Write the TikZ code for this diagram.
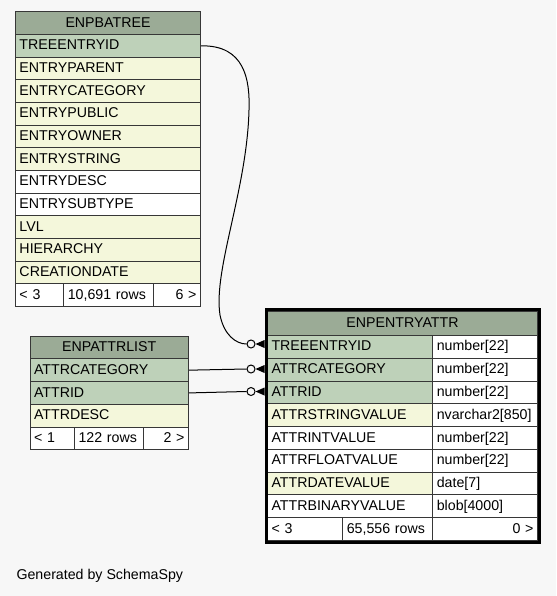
\documentclass[tikz,border=0pt]{standalone}
\usepackage{fontspec}
\setmainfont{Liberation Sans}
\usetikzlibrary{fit}
\definecolor{bgcolor}{RGB}{247,247,247}
\definecolor{hdrgreen}{RGB}{155,171,150}
\definecolor{keygreen}{RGB}{190,209,185}
\definecolor{idxyellow}{RGB}{244,247,219}
\definecolor{cellline}{RGB}{55,55,55}
\tikzset{
    cell/.style={rectangle, draw=cellline, line width=1pt, anchor=north west, inner xsep=4pt, inner ysep=0pt, text height=11pt, text depth=2.8pt, align=left, font=\fontsize{14.2}{16}\selectfont},
    header/.style={cell, fill=hdrgreen, align=center},
    keycol/.style={cell, fill=keygreen},
    idxcol/.style={cell, fill=idxyellow},
    plaincol/.style={cell, fill=white},
    footcell/.style={cell, fill=white},
    selframe/.style={rectangle, draw=black, line width=3pt, inner sep=1pt},
    ring/.style={circle, draw=black, fill=bgcolor, line width=1pt, minimum size=8pt, inner sep=0pt},
    relline/.style={draw=black, line width=1pt},
    crowfoot/.style={fill=black},
    credit/.style={anchor=west, font=\fontsize{14.2}{16}\selectfont},
}

\begin{document}
\begin{tikzpicture}[x=1pt, y=-1pt]

    \fill[bgcolor] (0,0) rectangle (556,596);
    \useasboundingbox (0,0) rectangle (556,596);

    % ENPBATREE
    \node[header, text width=177pt, minimum height=22.67pt] (tree_hdr) at (15, 11.33) {ENPBATREE};
    \node[keycol, text width=177pt, minimum height=22.67pt] (tree_id) at (15, 34) {TREEENTRYID};
    \node[idxcol, text width=177pt, minimum height=22.67pt] (tree_parent) at (15, 56.67) {ENTRYPARENT};
    \node[idxcol, text width=177pt, minimum height=22.67pt] (tree_cat) at (15, 79.33) {ENTRYCATEGORY};
    \node[idxcol, text width=177pt, minimum height=22.67pt] (tree_public) at (15, 102) {ENTRYPUBLIC};
    \node[idxcol, text width=177pt, minimum height=22.67pt] (tree_owner) at (15, 124.67) {ENTRYOWNER};
    \node[idxcol, text width=177pt, minimum height=22.67pt] (tree_string) at (15, 147.33) {ENTRYSTRING};
    \node[plaincol, text width=177pt, minimum height=22.67pt] (tree_desc) at (15, 170) {ENTRYDESC};
    \node[plaincol, text width=177pt, minimum height=22.67pt] (tree_subtype) at (15, 192.67) {ENTRYSUBTYPE};
    \node[idxcol, text width=177pt, minimum height=22.67pt] (tree_lvl) at (15, 215.33) {LVL};
    \node[idxcol, text width=177pt, minimum height=22.67pt] (tree_hier) at (15, 238) {HIERARCHY};
    \node[idxcol, text width=177pt, minimum height=22.67pt] (tree_created) at (15, 260.67) {CREATIONDATE};
    \node[footcell, text width=40.3pt, minimum height=22.67pt] (tree_foot_l) at (15, 283.33) {< 3};
    \node[footcell, text width=81.4pt, minimum height=22.67pt] (tree_foot_m) at (63.3, 283.33) {10,691 rows};
    \node[footcell, text width=39.3pt, minimum height=22.67pt, align=right] (tree_foot_r) at (152.7, 283.33) {6 >};

    % ENPATTRLIST
    \node[header, text width=150.5pt, minimum height=22.75pt] (list_hdr) at (29.5, 335.55) {ENPATTRLIST};
    \node[keycol, text width=150.5pt, minimum height=22.75pt] (list_cat) at (29.5, 358.3) {ATTRCATEGORY};
    \node[keycol, text width=150.5pt, minimum height=22.75pt] (list_id) at (29.5, 381.05) {ATTRID};
    \node[idxcol, text width=150.5pt, minimum height=22.75pt] (list_desc) at (29.5, 403.8) {ATTRDESC};
    \node[footcell, text width=36.5pt, minimum height=22.75pt] (list_foot_l) at (29.5, 426.55) {< 1};
    \node[footcell, text width=61.3pt, minimum height=22.75pt] (list_foot_m) at (74, 426.55) {122 rows};
    \node[footcell, text width=36.7pt, minimum height=22.75pt, align=right] (list_foot_r) at (143.3, 426.55) {2 >};

    % ENPENTRYATTR
    \node[header, text width=262pt, minimum height=24.5pt] (attr_hdr) at (267, 310.5) {ENPENTRYATTR};
    \node[keycol, text width=157.3pt, minimum height=22.78pt] (attr_tree) at (267, 335) {TREEENTRYID};
    \node[plaincol, text width=96.7pt, minimum height=22.78pt] (attr_tree_type) at (432.3, 335) {number[22]};
    \node[keycol, text width=157.3pt, minimum height=22.78pt] (attr_cat) at (267, 357.78) {ATTRCATEGORY};
    \node[plaincol, text width=96.7pt, minimum height=22.78pt] (attr_cat_type) at (432.3, 357.78) {number[22]};
    \node[keycol, text width=157.3pt, minimum height=22.78pt] (attr_id) at (267, 380.56) {ATTRID};
    \node[plaincol, text width=96.7pt, minimum height=22.78pt] (attr_id_type) at (432.3, 380.56) {number[22]};
    \node[idxcol, text width=157.3pt, minimum height=22.78pt] (attr_string) at (267, 403.33) {ATTRSTRINGVALUE};
    \node[plaincol, text width=96.7pt, minimum height=22.78pt] (attr_string_type) at (432.3, 403.33) {nvarchar2[850]};
    \node[plaincol, text width=157.3pt, minimum height=22.78pt] (attr_int) at (267, 426.11) {ATTRINTVALUE};
    \node[plaincol, text width=96.7pt, minimum height=22.78pt] (attr_int_type) at (432.3, 426.11) {number[22]};
    \node[plaincol, text width=157.3pt, minimum height=22.78pt] (attr_float) at (267, 448.89) {ATTRFLOATVALUE};
    \node[plaincol, text width=96.7pt, minimum height=22.78pt] (attr_float_type) at (432.3, 448.89) {number[22]};
    \node[idxcol, text width=157.3pt, minimum height=22.78pt] (attr_date) at (267, 471.67) {ATTRDATEVALUE};
    \node[plaincol, text width=96.7pt, minimum height=22.78pt] (attr_date_type) at (432.3, 471.67) {date[7]};
    \node[plaincol, text width=157.3pt, minimum height=22.78pt] (attr_blob) at (267, 494.44) {ATTRBINARYVALUE};
    \node[plaincol, text width=96.7pt, minimum height=22.78pt] (attr_blob_type) at (432.3, 494.44) {blob[4000]};
    \node[footcell, text width=67.3pt, minimum height=22.78pt] (attr_foot_l) at (267, 517.22) {< 3};
    \node[footcell, text width=82pt, minimum height=22.78pt] (attr_foot_m) at (342.3, 517.22) {65,556 rows};
    \node[footcell, text width=96.7pt, minimum height=22.78pt, align=right] (attr_foot_r) at (432.3, 517.22) {0 >};

    \node[selframe, fit=(attr_hdr)(attr_foot_r)] (attr_frame) {};

    % Relationships
    \node[ring] (ring_tree) at (251, 344) {};
    \node[ring] (ring_cat) at (251, 369) {};
    \node[ring] (ring_id) at (251, 391.5) {};

    \draw[relline] (tree_id.east) .. controls (245, 45) and (250, 80) .. (249, 110)
        .. controls (247, 190) and (213, 270) .. (220, 315)
        .. controls (224, 335) and (236, 344) .. (ring_tree.west);
    \draw[relline] (list_cat.east) -- (ring_cat.west);
    \draw[relline] (list_id.east) -- (ring_id.west);

    \fill[crowfoot] (ring_tree.east) -- ++(9, -4) -- ++(0, 8) -- cycle;
    \fill[crowfoot] (ring_cat.east) -- ++(9, -4) -- ++(0, 8) -- cycle;
    \fill[crowfoot] (ring_id.east) -- ++(9, -4) -- ++(0, 8) -- cycle;

    \node[credit] (credit) at (13, 576) {Generated by SchemaSpy};

\end{tikzpicture}
\end{document}
